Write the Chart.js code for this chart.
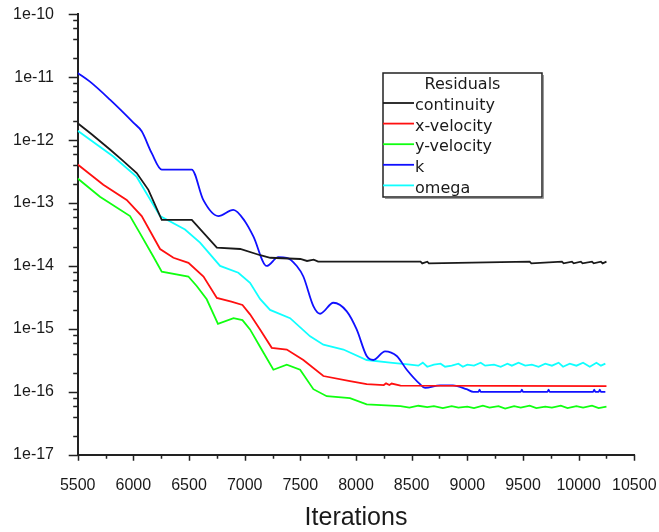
<!DOCTYPE html>
<html>
<head>
  <title>Residuals</title>
  <script src="https://cdn.jsdelivr.net/npm/chart.js@4.4.0/dist/chart.umd.min.js"></script>
  <style>
    body { margin: 0; background: #fff; }
    #wrap { width: 659px; height: 532px; }
  </style>
</head>
<body>
  <div id="wrap"><canvas id="chart" width="659" height="532"></canvas></div>

  <script>
    // values (iteration, residual)
    const continuityIter = [5500, 5620, 5790, 5900, 6030, 6135, 6255, 6525, 6750, 6960, 7140, 7230, 7500, 7560, 7620, 7660,
      8580, 8595, 8640, 8655, 9560, 9575, 9850, 9865, 9940, 9955, 10020, 10035, 10120, 10135, 10200, 10215, 10250];
    const continuityVal = [1.86e-12, 1.26e-12, 7.1e-13, 4.8e-13, 3.0e-13, 1.62e-13, 5.4e-14, 5.4e-14, 1.95e-14, 1.86e-14, 1.48e-14, 1.35e-14, 1.29e-14, 1.2e-14, 1.26e-14, 1.17e-14,
      1.17e-14, 1.1e-14, 1.17e-14, 1.1e-14, 1.17e-14, 1.1e-14, 1.17e-14, 1.1e-14, 1.17e-14, 1.1e-14, 1.17e-14, 1.1e-14, 1.17e-14, 1.1e-14, 1.17e-14, 1.1e-14, 1.17e-14];

    const xVelIter = [5500, 5730, 5940, 6075, 6240, 6360, 6495, 6630, 6750, 6880, 6980, 7048, 7138, 7243, 7378, 7527, 7707, 7946, 8096,
      8250, 8270, 8300, 8320, 8400, 10250];
    const xVelVal = [4.1e-13, 1.95e-13, 1.12e-13, 6.2e-14, 1.86e-14, 1.35e-14, 1.12e-14, 6.8e-15, 3.1e-15, 2.7e-15, 2.4e-15, 1.7e-15, 9.8e-16, 5.0e-16, 4.7e-16, 3.2e-16, 1.78e-16, 1.48e-16, 1.32e-16,
      1.28e-16, 1.36e-16, 1.28e-16, 1.35e-16, 1.25e-16, 1.23e-16];

    const yVelIter = [5500, 5700, 5970, 6060, 6179, 6255, 6494, 6569, 6659, 6760, 6900, 6980, 7048, 7138, 7258, 7378, 7498, 7617, 7737, 7946, 8096, 8400,
      8480, 8560, 8640, 8700, 8780, 8860, 8920, 9000, 9060, 9140, 9200, 9280, 9340, 9420, 9480, 9560, 9620, 9700, 9760, 9840, 9900, 9980, 10040, 10120, 10180, 10250];
    const yVelVal = [2.45e-13, 1.26e-13, 6.2e-14, 3.3e-14, 1.41e-14, 8.1e-15, 6.8e-15, 4.8e-15, 2.95e-15, 1.2e-15, 1.48e-15, 1.38e-15, 9.8e-16, 5.2e-16, 2.24e-16, 2.7e-16, 2.24e-16, 1.1e-16, 8.5e-17, 7.9e-17, 6.3e-17, 5.9e-17,
      5.6e-17, 6.0e-17, 5.7e-17, 5.9e-17, 5.5e-17, 5.9e-17, 5.6e-17, 5.8e-17, 5.5e-17, 6.0e-17, 5.6e-17, 5.9e-17, 5.4e-17, 5.9e-17, 5.6e-17, 6.0e-17, 5.5e-17, 5.8e-17, 5.6e-17, 6.0e-17, 5.5e-17, 5.9e-17, 5.6e-17, 6.0e-17, 5.5e-17, 5.8e-17];

    const kIter = [5500, 5610, 5790, 6000, 6075, 6165, 6255, 6524, 6628, 6763, 6898, 7003, 7078, 7198, 7302, 7378, 7468, 7527, 7617, 7677, 7797, 7917, 8006, 8096, 8156, 8261, 8366, 8456, 8575, 8620, 8755, 8870, 8994, 9054,
      9100, 9110, 9120, 9480, 9490, 9500, 9720, 9730, 9740, 10130, 10140, 10150, 10180, 10190, 10200, 10240];
    const kVal = [1.17e-11, 8.5e-12, 4.4e-12, 1.9e-12, 1.38e-12, 6.2e-13, 3.4e-13, 3.4e-13, 1.12e-13, 6.2e-14, 7.8e-14, 5.1e-14, 2.95e-14, 1.0e-14, 1.38e-14, 1.35e-14, 1.0e-14, 6.8e-15, 2.3e-15, 1.74e-15, 2.6e-15, 1.9e-15, 9.8e-16, 3.7e-16, 3.2e-16, 4.4e-16, 3.7e-16, 2.24e-16, 1.32e-16, 1.15e-16, 1.26e-16, 1.26e-16, 1.1e-16, 1.0e-16,
      1.0e-16, 1.08e-16, 1.0e-16, 1.0e-16, 1.08e-16, 1.0e-16, 1.0e-16, 1.08e-16, 1.0e-16, 1.0e-16, 1.08e-16, 1.0e-16, 1.0e-16, 1.08e-16, 1.0e-16, 1.0e-16];

    const omegaIter = [5500, 5820, 6030, 6240, 6464, 6599, 6779, 6943, 7048, 7138, 7228, 7408, 7588, 7707, 7887, 8096, 8306, 8486,
      8560, 8600, 8640, 8700, 8760, 8800, 8860, 8920, 8960, 9000, 9060, 9120, 9160, 9240, 9300, 9360, 9400, 9460, 9520, 9580, 9640, 9700, 9760, 9820, 9860, 9920, 9980, 10040, 10100, 10160, 10200, 10240];
    const omegaVal = [1.41e-12, 5.5e-13, 2.6e-13, 6.2e-14, 3.8e-14, 2.35e-14, 1.0e-14, 7.8e-15, 5.4e-15, 3.0e-15, 2.0e-15, 1.48e-15, 7.6e-16, 5.6e-16, 4.7e-16, 3.2e-16, 2.9e-16, 2.7e-16,
      2.6e-16, 2.9e-16, 2.5e-16, 2.7e-16, 2.8e-16, 2.5e-16, 2.6e-16, 2.8e-16, 2.5e-16, 2.7e-16, 2.6e-16, 2.9e-16, 2.6e-16, 2.7e-16, 2.5e-16, 2.8e-16, 2.6e-16, 2.9e-16, 2.6e-16, 2.7e-16, 2.5e-16, 2.8e-16, 2.6e-16, 2.9e-16, 2.5e-16, 2.8e-16, 2.6e-16, 2.9e-16, 2.5e-16, 2.9e-16, 2.6e-16, 2.8e-16];

    const seriesNames = ['continuity', 'x-velocity', 'y-velocity', 'k', 'omega'];
    const seriesColors = ['#1a1a1a', '#ff1010', '#10ff10', '#1010ff', '#10ffff'];
    const legendTitle = 'Residuals';

    const xTickValues = [5500, 5750, 6000, 6250, 6500, 6750, 7000, 7250, 7500, 7750, 8000, 8250, 8500, 8750, 9000, 9250, 9500, 9750, 10000, 10250, 10500];
    const yDecades = [-17, -16, -15, -14, -13, -12, -11, -10];
    const yTickLabels = ['1e-17', '1e-16', '1e-15', '1e-14', '1e-13', '1e-12', '1e-11', '1e-10'];
    const yMinorSteps = [2, 4, 6, 8];

    const pts = (xs, ys) => xs.map((x, i) => ({ x: x, y: ys[i] }));
    const seriesData = [
      pts(continuityIter, continuityVal),
      pts(xVelIter, xVelVal),
      pts(yVelIter, yVelVal),
      pts(kIter, kVal),
      pts(omegaIter, omegaVal)
    ];

    const tickFont = "'Liberation Sans', Arial, sans-serif";

    // pick a condensed face for the axis title if one is installed
    const narrowFont = (() => {
      const c = document.createElement('canvas').getContext('2d');
      c.font = "30px 'Liberation Sans Narrow', monospace";
      const a = c.measureText('Iterations').width;
      c.font = '30px monospace';
      const b = c.measureText('Iterations').width;
      return a !== b;
    })();
    const titleFont = narrowFont
      ? { family: "'Liberation Sans Narrow'", size: 30, lineHeight: 1 }
      : { family: tickFont, size: 25, lineHeight: 1 };

    // small outside tick marks, long on decades / labelled values
    const tickMarks = {
      id: 'tickMarks',
      afterDraw(chart) {
        const { ctx, scales: { x, y }, chartArea } = chart;
        ctx.save();
        ctx.strokeStyle = '#222';
        ctx.lineWidth = 1.5;
        ctx.beginPath();
        y.ticks.forEach(t => {
          const py = Math.round(y.getPixelForValue(t.value)) + 0.5;
          const len = t.big ? 9 : 4.5;
          ctx.moveTo(chartArea.left - len, py);
          ctx.lineTo(chartArea.left, py);
        });
        x.ticks.forEach(t => {
          const px = Math.round(x.getPixelForValue(t.value)) + 0.5;
          const len = t.big ? 6 : 4;
          ctx.moveTo(px, chartArea.bottom);
          ctx.lineTo(px, chartArea.bottom + len);
        });
        ctx.stroke();
        ctx.restore();
      }
    };

    const residualsBox = {
      id: 'residualsBox',
      afterDraw(chart) {
        const ctx = chart.ctx;
        const left = 383, top = 73, right = 542, bottom = 197;
        ctx.save();
        ctx.fillStyle = '#fff';
        ctx.fillRect(left, top, right - left, bottom - top);
        ctx.strokeStyle = '#999';
        ctx.lineWidth = 1;
        ctx.beginPath();
        ctx.moveTo(right + 1.5, top + 2);
        ctx.lineTo(right + 1.5, bottom + 1.5);
        ctx.lineTo(left + 2, bottom + 1.5);
        ctx.stroke();
        ctx.strokeStyle = '#222';
        ctx.lineWidth = 1.5;
        ctx.strokeRect(left, top, right - left, bottom - top);

        ctx.font = "16px 'DejaVu Sans', sans-serif";
        ctx.fillStyle = '#1a1a1a';
        ctx.textBaseline = 'middle';
        ctx.textAlign = 'center';
        ctx.fillText(legendTitle, (left + right) / 2, 85);
        ctx.textAlign = 'left';
        chart.data.datasets.forEach((ds, i) => {
          const yy = 103 + i * 20.6;
          ctx.strokeStyle = ds.borderColor;
          ctx.lineWidth = 1.8;
          ctx.beginPath();
          ctx.moveTo(left, yy);
          ctx.lineTo(left + 31, yy);
          ctx.stroke();
          ctx.fillText(ds.label, left + 32, yy + 3);
        });
        ctx.restore();
      }
    };

    new Chart(document.getElementById('chart').getContext('2d'), {
      type: 'line',
      data: {
        datasets: seriesNames.map((name, i) => ({
          label: name,
          data: seriesData[i],
          borderColor: seriesColors[i],
          backgroundColor: seriesColors[i],
          borderWidth: 1.8,
          pointRadius: 0,
          fill: false,
          tension: 0,
          cubicInterpolationMode: name === 'k' ? 'monotone' : 'default'
        }))
      },
      options: {
        responsive: false,
        animation: false,
        devicePixelRatio: 1,
        layout: { padding: { left: 12.7, right: 24.7, top: 14.3, bottom: 0 } },
        plugins: {
          legend: { display: false },
          tooltip: { enabled: false }
        },
        scales: {
          x: {
            type: 'linear',
            min: 5500,
            max: 10500,
            afterBuildTicks: s => { s.ticks = xTickValues.map(v => ({ value: v, big: v % 500 === 0 })); },
            afterFit: s => { s.height = 77.3; s.paddingLeft = 0; s.paddingRight = 0; },
            grid: { display: false, drawTicks: false },
            border: { display: true, color: '#222', width: 2 },
            ticks: {
              autoSkip: false,
              maxRotation: 0,
              padding: 21,
              color: '#1a1a1a',
              font: { family: tickFont, size: 16 },
              callback: v => (v % 500 === 0 ? String(v) : '')
            },
            title: {
              display: true,
              text: 'Iterations',
              color: '#1a1a1a',
              font: titleFont,
              padding: { top: 0, bottom: 1 }
            }
          },
          y: {
            type: 'logarithmic',
            min: 1e-17,
            max: 1e-10,
            afterBuildTicks: s => {
              const t = [];
              yDecades.forEach(e => {
                t.push({ value: Math.pow(10, e), big: true });
                if (e < -10) yMinorSteps.forEach(m => t.push({ value: m * Math.pow(10, e), big: false }));
              });
              s.ticks = t;
            },
            afterFit: s => { s.width = 65; s.paddingTop = 0; s.paddingBottom = 0; },
            grid: { display: false, drawTicks: false },
            border: { display: true, color: '#222', width: 2 },
            ticks: {
              autoSkip: false,
              padding: 23.7,
              color: '#1a1a1a',
              font: { family: tickFont, size: 16 },
              callback: v => {
                const e = Math.round(Math.log10(v));
                const k = yDecades.indexOf(e);
                return Math.abs(v / Math.pow(10, e) - 1) < 1e-6 && k >= 0 ? yTickLabels[k] : '';
              }
            }
          }
        }
      },
      plugins: [tickMarks, residualsBox]
    });
  </script>
</body>
</html>
